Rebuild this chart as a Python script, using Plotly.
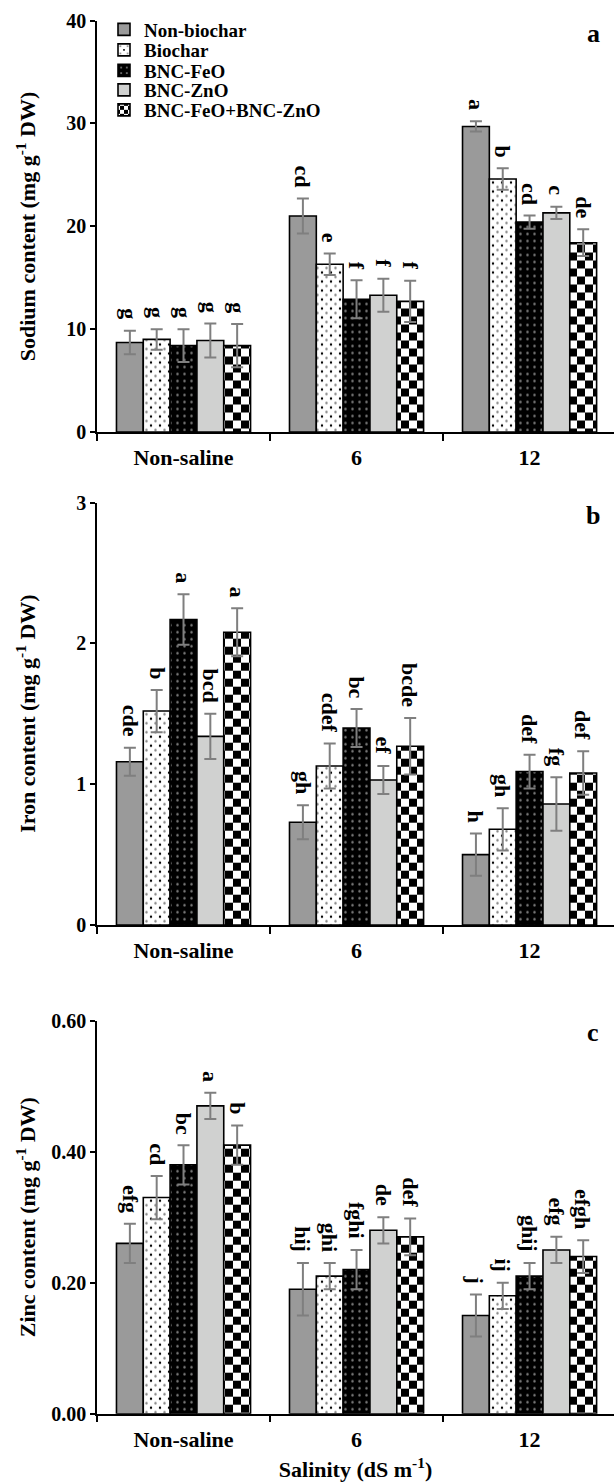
import plotly.graph_objects as go

# ---------------- data ----------------
categories = ["Non-saline", "6", "12"]
treatments = ["Non-biochar", "Biochar", "BNC-FeO", "BNC-ZnO", "BNC-FeO+BNC-ZnO"]

# rows = treatments, columns = salinity levels
sodium_mean = [[8.7, 21.0, 29.7],
               [9.0, 16.3, 24.6],
               [8.4, 12.9, 20.4],
               [8.9, 13.3, 21.3],
               [8.4, 12.7, 18.4]]
sodium_err = [[1.15, 1.7, 0.5],
              [1.0, 1.05, 1.05],
              [1.6, 1.85, 0.65],
              [1.65, 1.6, 0.6],
              [2.1, 2.0, 1.3]]
sodium_letters = [["g", "cd", "a"],
                  ["g", "e", "b"],
                  ["g", "f", "cd"],
                  ["g", "f", "c"],
                  ["g", "f", "de"]]

iron_mean = [[1.16, 0.73, 0.50],
             [1.52, 1.13, 0.68],
             [2.17, 1.40, 1.09],
             [1.34, 1.03, 0.86],
             [2.08, 1.27, 1.08]]
iron_err = [[0.10, 0.12, 0.15],
            [0.15, 0.16, 0.15],
            [0.18, 0.135, 0.12],
            [0.16, 0.10, 0.19],
            [0.17, 0.20, 0.155]]
iron_letters = [["cde", "gh", "h"],
                ["b", "cdef", "gh"],
                ["a", "bc", "def"],
                ["bcd", "ef", "fg"],
                ["a", "bcde", "def"]]

zinc_mean = [[0.26, 0.19, 0.15],
             [0.33, 0.21, 0.18],
             [0.38, 0.22, 0.21],
             [0.47, 0.28, 0.25],
             [0.41, 0.27, 0.24]]
zinc_err = [[0.03, 0.04, 0.032],
            [0.033, 0.02, 0.02],
            [0.03, 0.03, 0.02],
            [0.02, 0.02, 0.02],
            [0.03, 0.028, 0.025]]
zinc_letters = [["efg", "hij", "j"],
                ["cd", "ghi", "ij"],
                ["bc", "fghi", "ghij"],
                ["a", "de", "efg"],
                ["b", "def", "efgh"]]

y_titles = ["Sodium content (mg g<sup>-1</sup> DW)",
            "Iron content (mg g<sup>-1</sup> DW)",
            "Zinc content (mg g<sup>-1</sup> DW)"]
x_title = "Salinity (dS m<sup>-1</sup>)"
panel_tags = ["a", "b", "c"]

# ---------------- styling ----------------
W, H = 614, 1482
FONT = "Liberation Serif"
bargap = 0.225
fills = [
    dict(color="#9a9a9a"),
    dict(color="white", pattern=dict(shape=".", fgcolor="#020202", bgcolor="white", size=9, solidity=0.055)),
    dict(color="black", pattern=dict(shape=".", fgcolor="white", bgcolor="black", size=7, solidity=0.1)),
    dict(color="#d0d1d0"),
    dict(color="white", pattern=dict(shape=".", fgcolor="#010101", bgcolor="white", size=16, solidity=0.4)),
]

# plot areas in pixels (top, bottom)
areas = [(20.5, 432.0), (502.7, 925.0), (1020.7, 1413.7)]
x_left = 97.0
yranges = [[0, 40], [0, 3], [0, 0.6]]
dticks = [10, 1, 0.2]
tickfmts = ["d", "d", ".2f"]
tag_y = [34, 515, 1032]
legend_y = [29.5, 50.0, 70.5, 90.0, 110.0]
ytitle_x = 26

panels = [(sodium_mean, sodium_err, sodium_letters),
          (iron_mean, iron_err, iron_letters),
          (zinc_mean, zinc_err, zinc_letters)]

fig = go.Figure()
annotations = []
bw = (1 - bargap) / len(treatments)

for p, (means, errs, letters) in enumerate(panels):
    xa = "x" if p == 0 else f"x{p+1}"
    ya = "y" if p == 0 else f"y{p+1}"
    for t, name in enumerate(treatments):
        fig.add_trace(go.Bar(
            x=categories, y=means[t], name=name,
            error_y=dict(type="data", array=errs[t], color="#7f7f7f", thickness=2, width=6),
            marker=dict(**fills[t], line=dict(color="black", width=1.6)),
            xaxis=xa, yaxis=ya,
            showlegend=(p == 0),
            legend="legend" if t == 0 else f"legend{t+1}",
        ))
        for j in range(len(categories)):
            annotations.append(dict(
                x=j + (t - 2) * bw, y=means[t][j] + errs[t][j],
                xref=xa, yref=ya, text=letters[t][j], textangle=90,
                showarrow=False, xanchor="center", yanchor="bottom", yshift=9,
                font=dict(family=FONT, size=22, color="black", weight="bold"),
            ))
    top, bot = areas[p]
    annotations.append(dict(
        x=593 / W, y=1 - tag_y[p] / H, xref="paper", yref="paper",
        text=panel_tags[p], showarrow=False, xanchor="center", yanchor="middle",
        font=dict(family=FONT, size=26, color="black", weight="bold"),
    ))
    # y-axis title
    annotations.append(dict(
        x=ytitle_x / W, y=1 - (top + bot) / 2 / H, xref="paper", yref="paper",
        text=y_titles[p], textangle=-90, showarrow=False,
        xanchor="center", yanchor="middle",
        font=dict(family=FONT, size=22, color="black", weight="bold"),
    ))

layout = dict(
    width=W, height=H, autosize=False,
    margin=dict(l=0, r=0, t=0, b=0),
    paper_bgcolor="white", plot_bgcolor="white",
    font=dict(family=FONT, size=18, color="black", weight="bold"),
    barmode="group", bargap=bargap, bargroupgap=0,
    annotations=annotations,
)

for p in range(3):
    top, bot = areas[p]
    xk = "xaxis" if p == 0 else f"xaxis{p+1}"
    yk = "yaxis" if p == 0 else f"yaxis{p+1}"
    ya = "y" if p == 0 else f"y{p+1}"
    xa = "x" if p == 0 else f"x{p+1}"
    xdef = dict(
        domain=[x_left / W, 1.0], anchor=ya, type="category",
        range=[-0.5, 2.488], showline=True, linecolor="black", linewidth=1.5,
        ticks="outside", tickson="boundaries", ticklen=7, tickwidth=1.5, tickcolor="black",
        showgrid=False, zeroline=False, automargin=False, ticklabelstandoff=5,
        tickfont=dict(family=FONT, size=22, color="black", weight="bold"),
    )
    if p == 2:
        xdef["title"] = dict(text=x_title, standoff=14,
                             font=dict(family=FONT, size=22, color="black", weight="bold"))
    layout[xk] = xdef
    layout[yk] = dict(
        domain=[1 - bot / H, 1 - top / H], anchor=xa,
        range=yranges[p], dtick=dticks[p], tick0=0, tickformat=tickfmts[p],
        showline=True, linecolor="black", linewidth=1.5,
        ticks="outside", ticklen=5, tickwidth=1.5, tickcolor="black",
        showgrid=False, zeroline=False, automargin=False,
        tickfont=dict(family=FONT, size=20, color="black", weight="bold"),
    )

for t in range(len(treatments)):
    key = "legend" if t == 0 else f"legend{t+1}"
    layout[key] = dict(
        x=104 / W, y=1 - legend_y[t] / H, xanchor="left", yanchor="middle",
        bgcolor="rgba(0,0,0,0)", borderwidth=0,
        font=dict(family=FONT, size=19, color="black", weight="bold"),
        itemwidth=30,
    )

fig.update_layout(**layout)

post_js = """
(function(){
  document.documentElement.style.margin = '0';
  document.body.style.margin = '0';
  document.body.style.padding = '0';
  document.body.style.overflow = 'hidden';
  var gd = document.getElementById('{plot_id}');
  if(!gd) return;
  var ns = 'http://www.w3.org/2000/svg';
  var pats = gd.querySelectorAll('pattern');
  pats.forEach(function(p){
    var c = p.querySelector('circle');
    if(!c) return;
    var f = (c.getAttribute('fill') || c.style.fill || '').replace(/\\s/g,'').toLowerCase();
    var w = parseFloat(p.getAttribute('width'));
    if(f === 'rgb(1,1,1)' || f === '#010101'){
      var h = w / 2;
      c.parentNode.removeChild(c);
      var path = document.createElementNS(ns, 'path');
      path.setAttribute('d', 'M0,0H'+h+'V'+h+'H0Z M'+h+','+h+'H'+w+'V'+w+'H'+h+'Z');
      path.setAttribute('fill', '#000000');
      p.appendChild(path);
    } else if(f === 'rgb(2,2,2)' || f === '#020202'){
      var r = c.getAttribute('r');
      [[0,0],[w,0],[0,w],[w,w]].forEach(function(q){
        var cc = document.createElementNS(ns, 'circle');
        cc.setAttribute('cx', q[0]); cc.setAttribute('cy', q[1]);
        cc.setAttribute('r', r); cc.setAttribute('fill', '#000000');
        p.appendChild(cc);
      });
    }
  });
})();
"""

fig.write_html("out.html", post_script=post_js, config={"displayModeBar": False})
